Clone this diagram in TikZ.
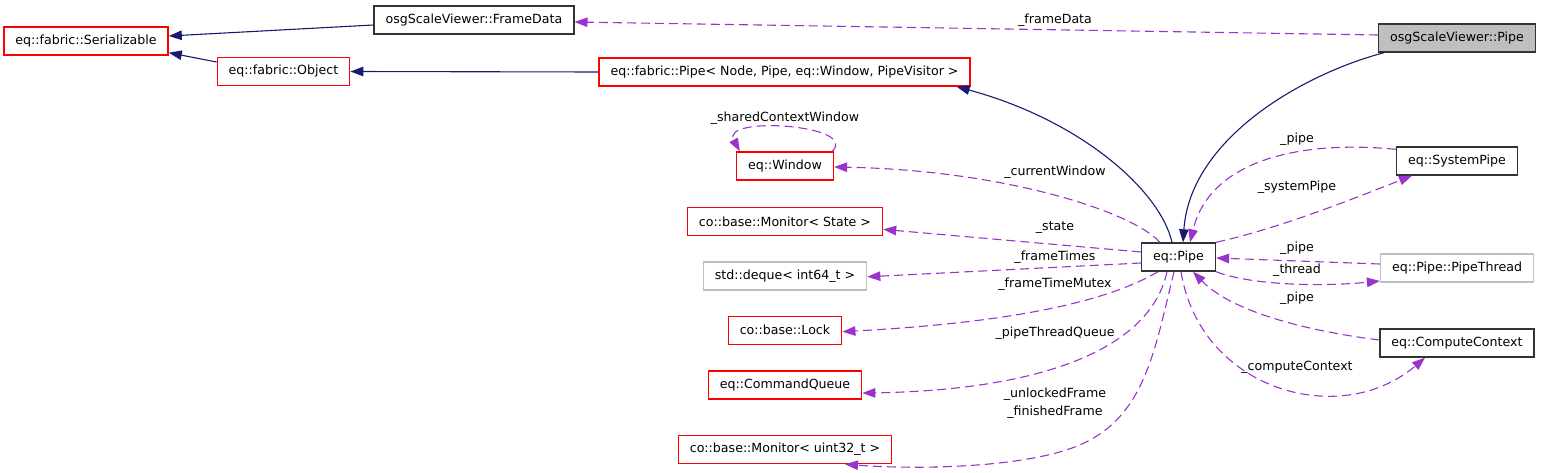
\documentclass[tikz,border=0pt]{standalone}
\usepackage{fontspec}
\setmainfont{DejaVu Sans}
\usetikzlibrary{arrows.meta, positioning}

\definecolor{navy}{HTML}{191970}
\definecolor{orchid}{HTML}{9A32CD}
\definecolor{grey75}{HTML}{BFBFBF}

\begin{document}
\begin{tikzpicture}[x=1pt, y=1pt,
    box/.style={draw, line width=1.4pt, minimum height=28pt, inner xsep=11.5pt, inner ysep=2pt,
        font=\fontsize{12.6}{14}\selectfont, anchor=center},
    plainbox/.style={box, draw=black!80},
    redbox/.style={box, draw=red},
    greybox/.style={box, draw=grey75},
    inh/.style={draw=navy, line width=1.1pt, -{Triangle[length=13pt, width=9.5pt]}},
    mem/.style={draw=orchid, line width=1.1pt, dash pattern=on 9pt off 5pt, -{Triangle[length=13pt, width=9.5pt]}},
    lbl/.style={inner sep=0pt, font=\fontsize{12.6}{18}\selectfont, align=center}
]
    \useasboundingbox (0,0) rectangle (1541,-473);

    % classes
    \node[plainbox, fill=grey75] (viewer) at (1457,-38) {osgScaleViewer::Pipe};
    \node[plainbox] (framedata) at (474,-20) {osgScaleViewer::FrameData};
    \node[redbox] (serial) at (86,-41) {eq::fabric::Serializable};
    \node[redbox] (object) at (283.5,-71.5) {eq::fabric::Object};
    \node[redbox] (fpipe) at (784.5,-72) {eq::fabric::Pipe< Node, Pipe, eq::Window, PipeVisitor >};
    \node[plainbox] (eqpipe) at (1178.5,-257) {eq::Pipe};

    \node[redbox] (window) at (785,-166) {eq::Window};
    \node[redbox, below=26pt of window] (monstate) {co::base::Monitor< State >};
    \node[greybox, below=25pt of monstate] (deque) {std::deque< int64\_t >};
    \node[redbox, below=25pt of deque] (lock) {co::base::Lock};
    \node[redbox, below=25.5pt of lock] (cmdq) {eq::CommandQueue};
    \node[redbox, below=35pt of cmdq] (monu32) {co::base::Monitor< uint32\_t >};

    \node[plainbox] (syspipe) at (1457,-161) {eq::SystemPipe};
    \node[greybox] (pthread) at (1457,-268) {eq::Pipe::PipeThread};
    \node[plainbox] (compctx) at (1457,-343) {eq::ComputeContext};

    % inheritance
    \draw[inh] ([yshift=-5]framedata.west) -- ([yshift=5]serial.east);
    \draw[inh] ([yshift=9.5]object.west) -- ([yshift=3]serial.south east);
    \draw[inh] (fpipe.west) -- (object.east);
    \draw[inh] ([xshift=6]viewer.south west) .. controls (1300,-75) and (1190,-140) .. ([xshift=4.5]eqpipe.north);
    \draw[inh] ([xshift=-6.5]eqpipe.north) .. controls (1160,-190) and (1080,-120) .. ([xshift=-14]fpipe.south east);

    % members
    \draw[mem] ([yshift=3]viewer.west) -- ([yshift=-2]framedata.east);
    \draw[mem] ([xshift=-2]window.north east) .. controls (860,-125) and (720,-115) .. ([xshift=4]window.north west);
    \draw[mem] ([xshift=-18.5]eqpipe.north) .. controls (1130,-210) and (1000,-170) .. ([yshift=-1]window.east);
    \draw[mem] ([yshift=5]eqpipe.west) -- ([yshift=-8]monstate.east);
    \draw[mem] ([yshift=-6]eqpipe.west) -- ([yshift=-1]deque.east);
    \draw[mem] ([xshift=-20.5]eqpipe.south) .. controls (1110,-300) and (1020,-322) .. ([yshift=-1.5]lock.east);
    \draw[mem] ([xshift=-11.5]eqpipe.south) .. controls (1150,-350) and (1040,-390) .. ([yshift=-8]cmdq.east);
    \draw[mem] ([xshift=-4.5]eqpipe.south) .. controls (1155,-350) and (1145,-410) .. (1090,-440)
        .. controls (1040,-468) and (920,-470) .. ([xshift=60]monu32.south);
    \draw[mem] ([xshift=2.5]eqpipe.south) .. controls (1200,-390) and (1340,-430) .. ([xshift=-32]compctx.south);
    \draw[mem] ([yshift=-3]syspipe.north west) .. controls (1300,-140) and (1210,-160) .. ([xshift=11.5]eqpipe.north);
    \draw[mem] (eqpipe.north east) .. controls (1280,-228) and (1350,-200) .. ([xshift=-45]syspipe.south);
    \draw[mem] ([yshift=4]pthread.west) -- ([yshift=-1]eqpipe.east);
    \draw[mem] (eqpipe.south east) .. controls (1250,-285) and (1320,-287) .. ([yshift=-13]pthread.west);
    \draw[mem] ([yshift=3]compctx.west) .. controls (1300,-330) and (1230,-310) .. ([xshift=14.5]eqpipe.south);

    % edge labels
    \node[lbl] (lframedata) at (1055,-20) {\_frameData};
    \node[lbl] (lshared) at (785,-118) {\_sharedContextWindow};
    \node[lbl] (lcurwin) at (1055,-172) {\_currentWindow};
    \node[lbl] (lstate) at (1055,-228) {\_state};
    \node[lbl] (lftimes) at (1055,-257) {\_frameTimes};
    \node[lbl] (lmutex) at (1055,-284) {\_frameTimeMutex};
    \node[lbl] (lqueue) at (1055,-333) {\_pipeThreadQueue};
    \node[lbl] (lframes) at (1055,-403) {\_unlockedFrame\\\_finishedFrame};
    \node[lbl] (lpipea) at (1297,-139) {\_pipe};
    \node[lbl] (lsyspipe) at (1297,-187) {\_systemPipe};
    \node[lbl] (lpipeb) at (1297,-248) {\_pipe};
    \node[lbl] (lthread) at (1297,-270) {\_thread};
    \node[lbl] (lpipec) at (1297,-298) {\_pipe};
    \node[lbl] (lcompctx) at (1297,-367) {\_computeContext};
\end{tikzpicture}
\end{document}
